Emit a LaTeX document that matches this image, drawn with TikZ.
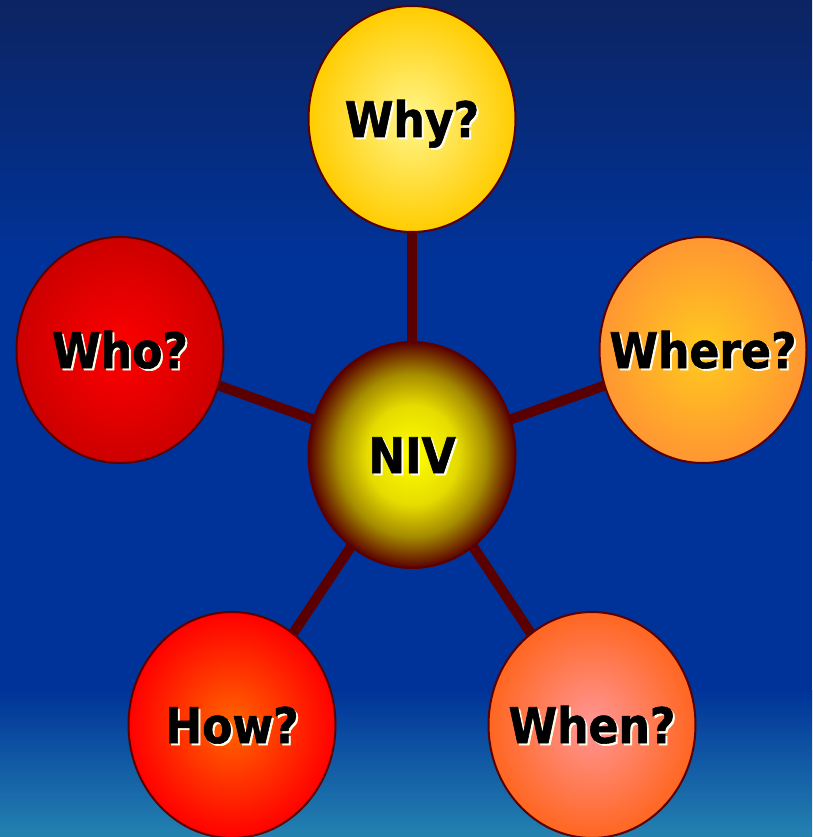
\documentclass[tikz,border=0pt]{standalone}
\usepackage{fontspec}
\newfontfamily\lblfont{DejaVu Sans Condensed}[BoldFeatures={FakeBold=1.2}]
\usetikzlibrary{shapes.geometric,calc}
\definecolor{bgtop}{RGB}{12,36,98}
\definecolor{bgmid}{RGB}{0,51,153}
\definecolor{bgbot}{RGB}{35,130,176}
\definecolor{maroon}{RGB}{90,0,0}
\definecolor{nivA}{RGB}{255,255,0}
\definecolor{nivB}{RGB}{230,220,0}
\definecolor{nivC}{RGB}{165,140,0}
\pgfdeclareradialshading{nivshade}{\pgfpoint{0bp}{0bp}}{color(0bp)=(nivA); color(11bp)=(nivB); color(18bp)=(nivC); color(25bp)=(maroon); color(50bp)=(maroon)}
\newcommand{\shadowtext}[1]{\rlap{\hspace{2pt}\raisebox{-2pt}{\color{white!92!yellow}#1}}#1}
\tikzset{
  bubble/.style={ellipse, draw=maroon, line width=2pt, minimum width=207pt, minimum height=226pt, inner sep=0pt, shading=radial},
  spoke/.style={draw=maroon, line width=10pt},
  txt/.style={anchor=base, inner sep=0pt, font=\lblfont\bfseries\fontsize{49}{58}\selectfont},
}
\begin{document}
\begin{tikzpicture}[x=1pt,y=-1pt]
\useasboundingbox (0,0) rectangle (812,837);
\shade[top color=bgtop, bottom color=bgmid] (0,0) rectangle (812,260.5);
\fill[bgmid] (0,260) rectangle (812,690.5);
\shade[top color=bgmid, bottom color=bgbot] (0,690) rectangle (812,837);
% coordinates of centres
\coordinate (cniv) at (412,455);
\coordinate (cwhy) at (412,119);
\coordinate (cwho) at (120,350);
\coordinate (cwhere) at (703,350);
\coordinate (chow) at (232,725);
\coordinate (cwhen) at (592,725);
% spokes
\draw[spoke] (cniv) -- (cwhy);
\draw[spoke] (cniv) -- (cwho);
\draw[spoke] (cniv) -- (cwhere);
\draw[spoke] (cniv) -- (chow);
\draw[spoke] (cniv) -- (cwhen);
% bubbles
\node[bubble, inner color={rgb,255:red,255;green,246;blue,140}, outer color={rgb,255:red,255;green,204;blue,0}] (why) at (cwhy) {};
\node[bubble, inner color={rgb,255:red,255;green,0;blue,0}, outer color={rgb,255:red,204;green,0;blue,0}] (who) at (cwho) {};
\node[bubble, inner color={rgb,255:red,255;green,202;blue,30}, outer color={rgb,255:red,255;green,150;blue,50}] (where) at (cwhere) {};
\node[bubble, shading=nivshade] (niv) at (cniv) {};
\node[bubble, inner color={rgb,255:red,255;green,102;blue,0}, outer color={rgb,255:red,255;green,0;blue,0}] (how) at (chow) {};
\node[bubble, inner color={rgb,255:red,255;green,150;blue,150}, outer color={rgb,255:red,255;green,102;blue,32}] (when) at (cwhen) {};
% labels with shadow
\foreach \n/\t in {why/Why?, who/Who?, where/Where?, niv/NIV, how/How?, when/When?}{
  \node[txt] (\n-t) at ($(\n.center)+(0,18)$) {\shadowtext{\t}};
}
\end{tikzpicture}
\end{document}
